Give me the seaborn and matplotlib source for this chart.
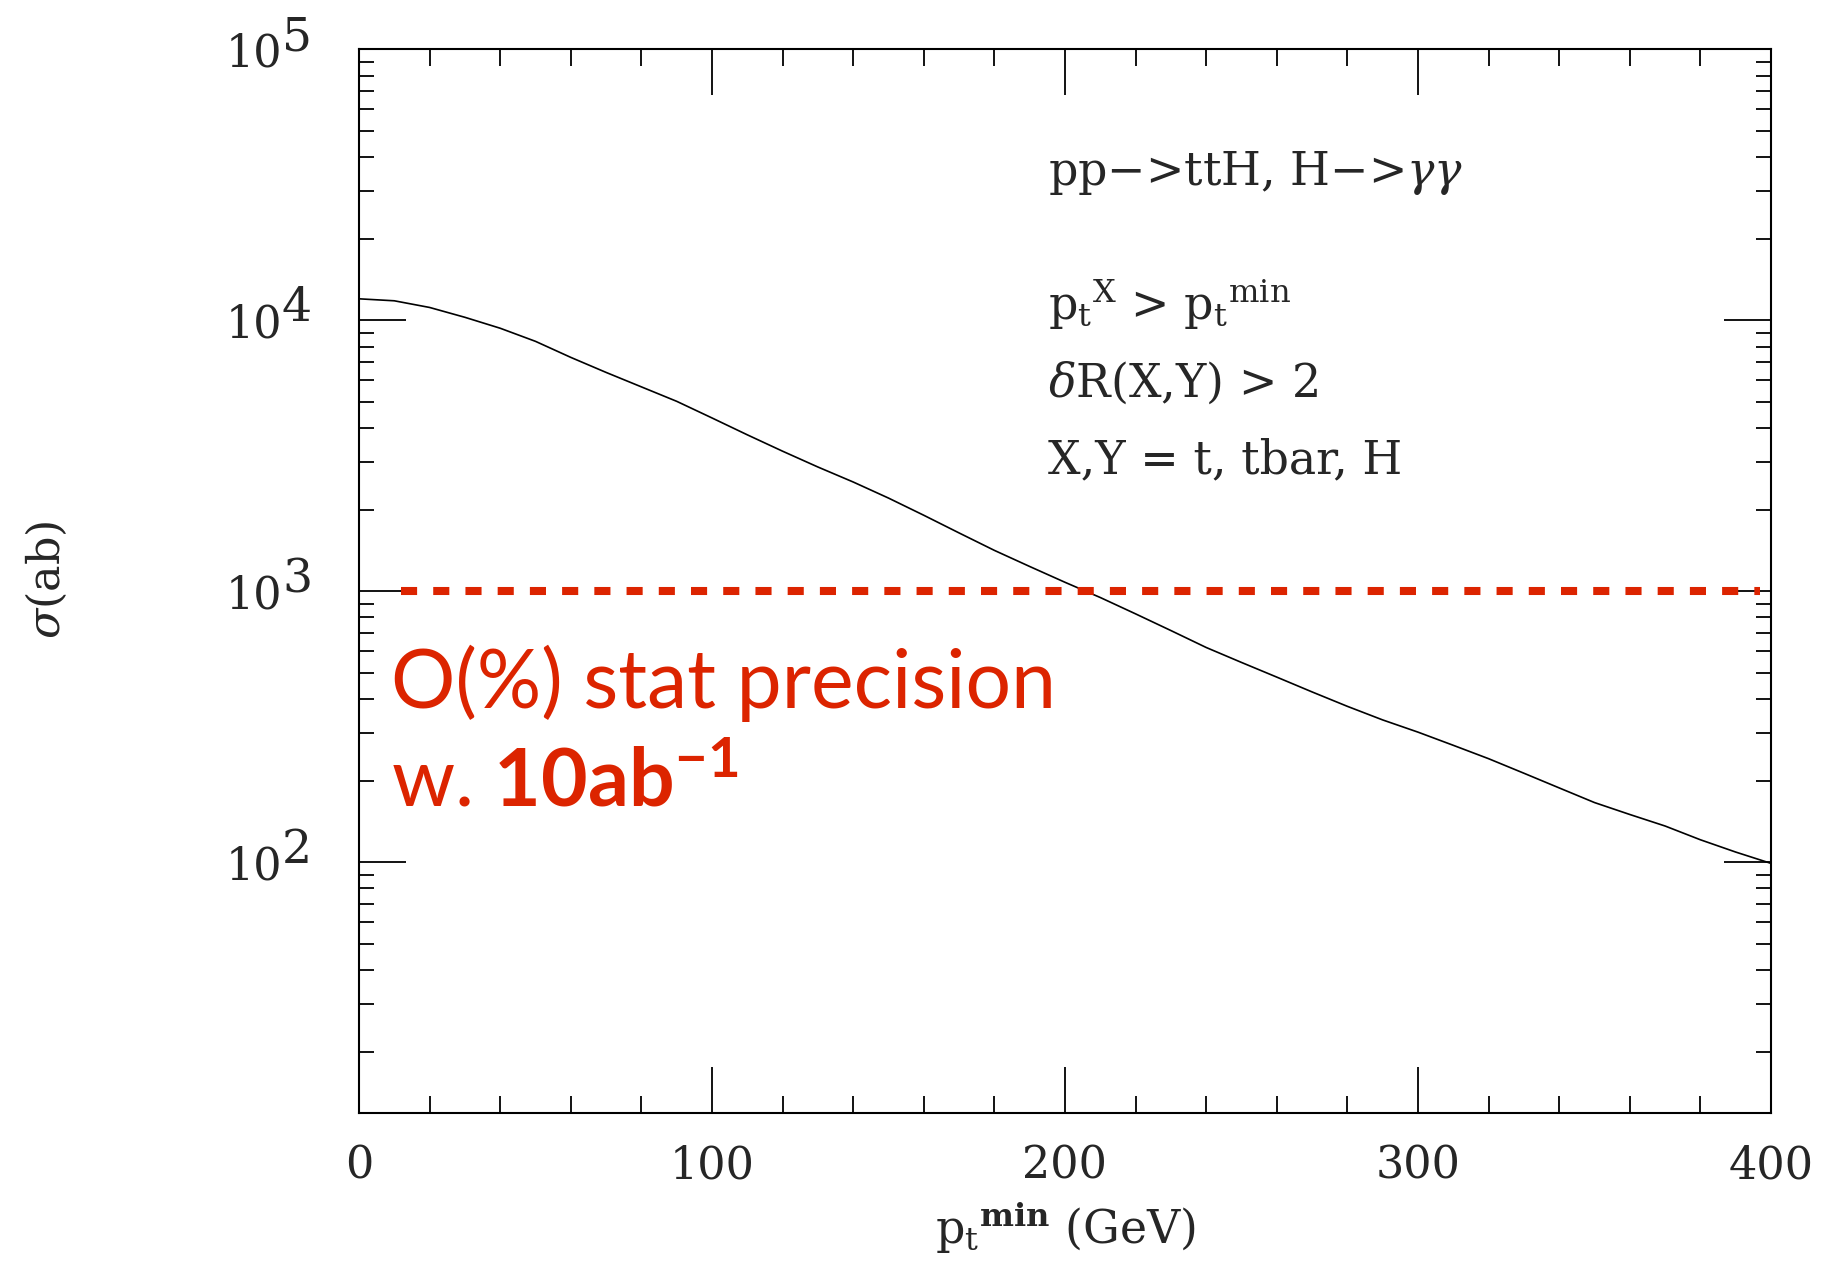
import matplotlib
matplotlib.use("Agg")
import matplotlib.pyplot as plt
import seaborn as sns
import pandas as pd
from matplotlib.ticker import FixedLocator, MultipleLocator, LogLocator, NullFormatter

# ttH (H -> gamma gamma) cross section vs. minimum pt cut
pt_min = [0, 10, 20, 30, 40, 50, 60, 70, 80, 90,
          100, 110, 120, 130, 140, 150, 160, 170, 180, 190,
          200, 210, 220, 230, 240, 250, 260, 270, 280, 290,
          300, 310, 320, 330, 340, 350, 360, 370, 380, 390, 400]
sigma_ab = [12000, 11800, 11150, 10255, 9345, 8360, 7295, 6420, 5678, 5022,
            4360, 3778, 3287, 2874, 2530, 2207, 1907, 1641, 1415, 1234,
            1079, 948, 825, 716, 620, 546, 482, 425, 376, 335,
            302, 270, 241, 213, 188, 166, 150, 136, 121, 109, 99]

# 1% statistical precision threshold with 10 ab^-1
threshold_ab = 1000
threshold_start = 11.8
threshold_end = 397.0

y_major_ticks = [1e2, 1e3, 1e4, 1e5]
y_tick_exponents = ["2", "3", "4", "5"]
x_major_ticks = [0, 100, 200, 300, 400]
x_tick_labels = ["0", "100", "200", "300", "400"]

cut_lines = [
    r"pp$-$>ttH, H$-$>$\gamma\gamma$",
    r"$\mathrm{p}_\mathrm{t}{}^{\mathrm{X}}$ > $\mathrm{p}_\mathrm{t}{}^{\mathrm{min}}$",
    r"$\delta$R(X,Y) > 2",
    r"X,Y = t, tbar, H",
]

RED = "#dc2400"

sns.set_style("ticks")
plt.rcParams["font.family"] = ["DejaVu Serif"]
plt.rcParams["mathtext.fontset"] = "dejavuserif"
plt.rcParams["mathtext.rm"] = "Lato"
plt.rcParams["mathtext.bf"] = "Lato:bold"
plt.rcParams["mathtext.it"] = "Lato:italic"

df = pd.DataFrame({"pt_min": pt_min, "sigma": sigma_ab})

fig = plt.figure(figsize=(18.32, 12.7), dpi=100)
ax = fig.add_axes([0.19596, 0.12386, 0.77074, 0.83732])

sns.lineplot(data=df, x="pt_min", y="sigma", ax=ax, color="black", linewidth=1.2)
ax.plot([threshold_start, threshold_end], [threshold_ab, threshold_ab],
        color=RED, linewidth=5.8, linestyle=(0, (2, 2)), solid_capstyle="butt")

ax.set_yscale("log")
ax.set_xlim(0, 400)
ax.set_ylim(11.9, 1e5)
ax.set_ylabel("")

for s in ax.spines.values():
    s.set_linewidth(1.5)
    s.set_color("black")

ax.xaxis.set_major_locator(FixedLocator(x_major_ticks))
ax.set_xticklabels(x_tick_labels)
ax.xaxis.set_minor_locator(MultipleLocator(20))
ax.yaxis.set_major_locator(FixedLocator(y_major_ticks))
ax.yaxis.set_minor_locator(LogLocator(base=10, subs=range(2, 10)))
ax.yaxis.set_major_formatter(NullFormatter())
ax.yaxis.set_minor_formatter(NullFormatter())

ax.tick_params(which="both", direction="in", top=True, right=True,
               width=1.3, color="black")
ax.tick_params(axis="x", which="major", length=33, labelsize=32, pad=23)
ax.tick_params(axis="x", which="minor", length=12)
ax.tick_params(axis="y", which="major", length=34)
ax.tick_params(axis="y", which="minor", length=10.5)

# y tick labels: "10" with a full-size exponent
ytrans = ax.get_yaxis_transform()
for val, exp in zip(y_major_ticks, y_tick_exponents):
    ax.annotate("10", xy=(0, val), xycoords=ytrans, xytext=(-77, -17),
                textcoords="offset pixels", ha="right", va="baseline",
                fontsize=32, annotation_clip=False)
    ax.annotate(exp, xy=(0, val), xycoords=ytrans, xytext=(-77, -1),
                textcoords="offset pixels", ha="left", va="baseline",
                fontsize=34, annotation_clip=False)

fig.text(46.7 / 1832, 1 - 580 / 1270, r"$\sigma$(ab)", rotation=90,
         ha="center", va="center", fontsize=32)

ax.set_xlabel(r"$\mathrm{p}_\mathrm{t}{}^{\mathbf{min}}$ (GeV)", fontsize=33)
ax.xaxis.set_label_coords(0.5, -0.1225)
ax.xaxis.label.set_verticalalignment("baseline")

# cut description
cut_y = [0.8724, 0.7455, 0.6731, 0.6016]
for txt, yy in zip(cut_lines, cut_y):
    ax.text(0.488, yy, txt, transform=ax.transAxes, fontsize=33,
            ha="left", va="baseline", math_fontfamily="dejavuserif")

# precision annotation
ax.text(0.0227, 0.3806, "O(%) stat precision", transform=ax.transAxes,
        color=RED, fontsize=58, family="Lato", ha="left", va="baseline")
ax.text(0.0227, 0.2878, r"w. $\mathbf{10ab}^{\mathbf{-1}}$", transform=ax.transAxes,
        color=RED, fontsize=58, family="Lato", ha="left", va="baseline",
        math_fontfamily="custom")

fig.savefig("out.png", dpi=100, facecolor="white")
